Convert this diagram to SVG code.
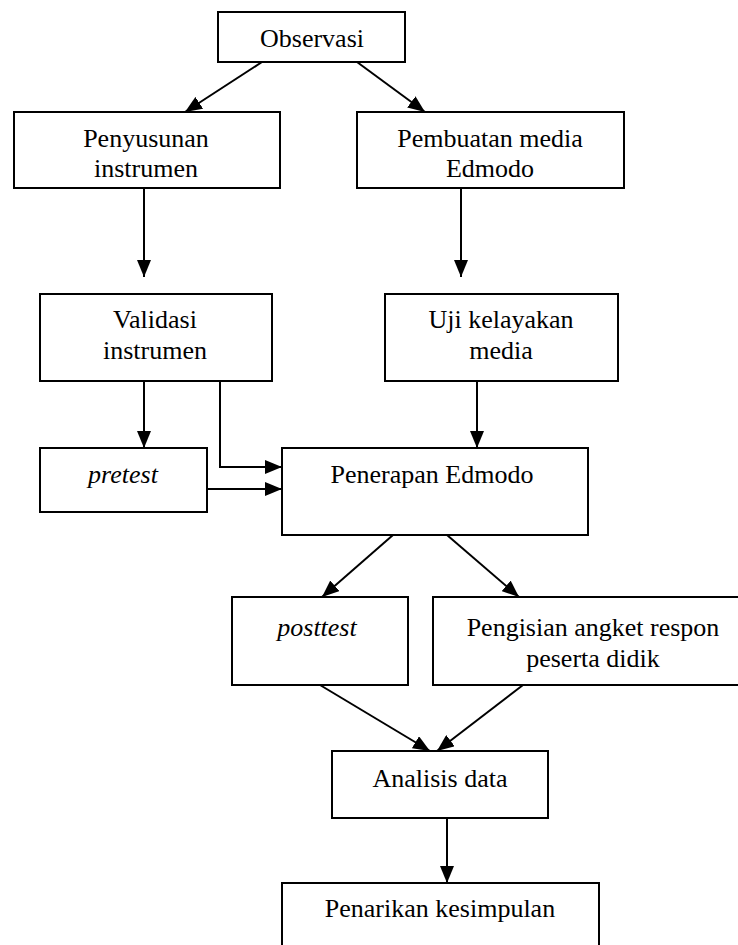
<svg xmlns="http://www.w3.org/2000/svg" width="738" height="945" viewBox="0 0 738 945">
<style>
rect{fill:#fff;stroke:#000;stroke-width:2}
text{font-family:"Liberation Serif","Times New Roman",serif;font-size:26px;fill:#000;text-anchor:middle}
.it{font-style:italic}
.c{fill:none;stroke:#000;stroke-width:2}
</style>
<defs>
<marker id="ah" markerUnits="userSpaceOnUse" markerWidth="18" markerHeight="14" refX="17" refY="7" orient="auto">
<path d="M0,0 L17,7 L0,14 Z" fill="#000"/>
</marker>
</defs>
<rect width="738" height="945" style="stroke:none"/>
<g id="n-observasi"><rect x="218" y="12" width="187" height="50"/><text x="312" y="47">Observasi</text></g>
<g id="n-penyusunan"><rect x="14" y="112" width="266" height="76"/><text x="146" y="147">Penyusunan</text><text x="146" y="177">instrumen</text></g>
<g id="n-pembuatan"><rect x="357" y="112" width="267" height="76"/><text x="490" y="147">Pembuatan media</text><text x="490" y="177">Edmodo</text></g>
<g id="n-validasi"><rect x="40" y="294" width="232" height="87"/><text x="155" y="328">Validasi</text><text x="155" y="359">instrumen</text></g>
<g id="n-uji"><rect x="385" y="294" width="233" height="87"/><text x="501" y="328">Uji kelayakan</text><text x="501" y="359">media</text></g>
<g id="n-pretest"><rect x="40" y="448" width="167" height="64"/><text class="it" x="123" y="483">pretest</text></g>
<g id="n-penerapan"><rect x="282" y="448" width="306" height="87"/><text x="432" y="483">Penerapan Edmodo</text></g>
<g id="n-posttest"><rect x="232" y="597" width="176" height="88"/><text class="it" x="317" y="636">posttest</text></g>
<g id="n-pengisian"><rect x="433" y="597" width="310" height="88"/><text x="593" y="636">Pengisian angket respon</text><text x="593" y="667">peserta didik</text></g>
<g id="n-analisis"><rect x="332" y="751" width="216" height="67"/><text x="440" y="787">Analisis data</text></g>
<g id="n-penarikan"><rect x="282" y="883" width="317" height="70"/><text x="440" y="917">Penarikan kesimpulan</text></g>
<g id="connectors">
<line class="c" x1="262" y1="62" x2="185" y2="112" marker-end="url(#ah)"/>
<line class="c" x1="357" y1="62" x2="425" y2="112" marker-end="url(#ah)"/>
<line class="c" x1="144" y1="188" x2="144" y2="277" marker-end="url(#ah)"/>
<line class="c" x1="461" y1="188" x2="461" y2="277" marker-end="url(#ah)"/>
<line class="c" x1="144" y1="381" x2="144" y2="448" marker-end="url(#ah)"/>
<polyline class="c" points="220,381 220,467 282,467" marker-end="url(#ah)"/>
<line class="c" x1="207" y1="489" x2="282" y2="489" marker-end="url(#ah)"/>
<line class="c" x1="477" y1="381" x2="477" y2="448" marker-end="url(#ah)"/>
<line class="c" x1="393" y1="535" x2="322" y2="597" marker-end="url(#ah)"/>
<line class="c" x1="447" y1="535" x2="519" y2="597" marker-end="url(#ah)"/>
<line class="c" x1="320" y1="685" x2="430" y2="751" marker-end="url(#ah)"/>
<line class="c" x1="523" y1="685" x2="437" y2="751" marker-end="url(#ah)"/>
<line class="c" x1="447" y1="818" x2="447" y2="883" marker-end="url(#ah)"/>
</g>
</svg>
